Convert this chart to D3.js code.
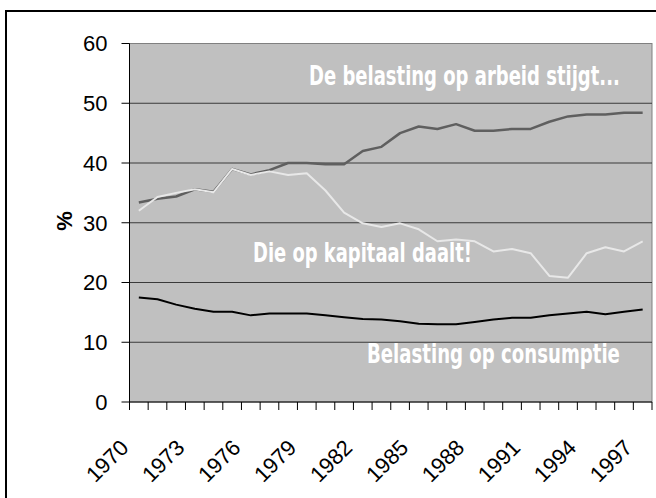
<!DOCTYPE html>
<html>
<head>
<meta charset="utf-8">
<script src="https://cdn.jsdelivr.net/npm/d3@7"></script>
<style>
  html, body { margin: 0; padding: 0; background: #fff; }
  svg { display: block; }
  .tick-label { font-family: "Liberation Sans", Arial, sans-serif; font-size: 22px; fill: #000; }
  .note { font-family: "DejaVu Sans", sans-serif; font-stretch: condensed; font-weight: bold; font-size: 26px; fill: #fff; }
</style>
</head>
<body>
<div id="chart"></div>
<script>
// Data
const years = d3.range(1970, 1998);
const arbeid = [33.4, 34.0, 34.4, 35.6, 35.2, 39.0, 38.1, 38.8, 40.0, 40.0,
  39.8, 39.8, 42.0, 42.7, 45.0, 46.1, 45.7, 46.5, 45.4, 45.4,
  45.7, 45.7, 46.9, 47.8, 48.1, 48.1, 48.4, 48.4];
const kapitaal = [32.0, 34.3, 35.0, 35.6, 35.1, 39.0, 38.0, 38.6, 38.0, 38.3,
  35.4, 31.7, 29.9, 29.3, 29.9, 28.9, 26.9, 27.2, 26.9, 25.2,
  25.6, 24.9, 21.1, 20.8, 24.9, 25.9, 25.2, 26.9];
const consumptie = [17.5, 17.2, 16.3, 15.6, 15.1, 15.1, 14.5, 14.8, 14.8, 14.8,
  14.5, 14.2, 13.9, 13.8, 13.5, 13.1, 13.0, 13.0, 13.4, 13.8,
  14.1, 14.1, 14.5, 14.8, 15.1, 14.7, 15.1, 15.5];
const yTicks = [0, 10, 20, 30, 40, 50, 60];
const xLabels = [1970, 1973, 1976, 1979, 1982, 1985, 1988, 1991, 1994, 1997];
const notes = [
  { text: 'De belasting op arbeid stijgt...', x: 309, y: 85, len: 311 },
  { text: 'Die op kapitaal daalt!', x: 253, y: 262, len: 219 },
  { text: 'Belasting op consumptie', x: 367, y: 363, len: 253 }
];

const W = 656, H = 498;
const plot = { left: 129.5, right: 652, top: 43.5, bottom: 402 };

const svg = d3.select('#chart').append('svg')
  .attr('width', W)
  .attr('height', H);

// outer frame (runs off the right and bottom edge, like the original)
svg.append('rect')
  .attr('x', 6).attr('y', 11)
  .attr('width', 700).attr('height', 600)
  .attr('fill', 'none')
  .attr('stroke', '#000')
  .attr('stroke-width', 2);

const x = d3.scaleBand().domain(years).range([plot.left, plot.right]).padding(0);
const y = d3.scaleLinear().domain([0, 60]).range([plot.bottom, plot.top]);
const cx = d => x(d) + x.bandwidth() / 2;

// plot background
svg.append('rect')
  .attr('x', plot.left).attr('y', plot.top)
  .attr('width', plot.right - plot.left).attr('height', plot.bottom - plot.top)
  .attr('fill', '#c0c0c0')
  .attr('stroke', '#808080')
  .attr('stroke-width', 1);

// gridlines
svg.append('g')
  .selectAll('line')
  .data(yTicks.filter(t => t > 0 && t < 60))
  .enter().append('line')
  .attr('x1', plot.left).attr('x2', plot.right)
  .attr('y1', d => y(d)).attr('y2', d => y(d))
  .attr('stroke', '#3a3a3a')
  .attr('stroke-width', 1);

// y axis
const yAxis = svg.append('g');
yAxis.append('line')
  .attr('x1', plot.left).attr('x2', plot.left)
  .attr('y1', plot.top).attr('y2', plot.bottom)
  .attr('stroke', '#000');
yAxis.selectAll('.yt')
  .data(yTicks)
  .enter().append('line')
  .attr('x1', plot.left - 8).attr('x2', plot.left)
  .attr('y1', d => y(d)).attr('y2', d => y(d))
  .attr('stroke', '#000');
yAxis.selectAll('text')
  .data(yTicks)
  .enter().append('text')
  .attr('class', 'tick-label')
  .attr('x', 107.5)
  .attr('y', d => y(d))
  .attr('dy', '0.36em')
  .attr('text-anchor', 'end')
  .text(d => d);

svg.append('text')
  .attr('class', 'tick-label')
  .attr('transform', 'translate(72,221) rotate(-90)')
  .attr('text-anchor', 'middle')
  .style('font-weight', 'bold')
  .text('%');

// x axis: ticks between categories
const xAxis = svg.append('g');
xAxis.append('line')
  .attr('x1', plot.left).attr('x2', plot.right)
  .attr('y1', plot.bottom).attr('y2', plot.bottom)
  .attr('stroke', '#000');
const bounds = years.map(d => x(d)).concat([x(years[years.length - 1]) + x.bandwidth()]);
xAxis.selectAll('.xt')
  .data(bounds)
  .enter().append('line')
  .attr('x1', d => d).attr('x2', d => d)
  .attr('y1', plot.bottom).attr('y2', plot.bottom + 8)
  .attr('stroke', '#000');
xAxis.selectAll('text')
  .data(xLabels)
  .enter().append('text')
  .attr('class', 'tick-label')
  .attr('text-anchor', 'end')
  .attr('transform', d => `translate(${cx(d) - 9},${plot.bottom + 47}) rotate(-45)`)
  .text(d => d);

// lines
const line = d3.line().x((d, i) => cx(years[i])).y(d => y(d));
const series = [
  { values: arbeid, color: '#5f5f5f', width: 2.5 },
  { values: kapitaal, color: '#e8e8e8', width: 2 },
  { values: consumptie, color: '#000000', width: 2 }
];
svg.append('g')
  .selectAll('path')
  .data(series)
  .enter().append('path')
  .attr('d', d => line(d.values))
  .attr('fill', 'none')
  .attr('stroke', d => d.color)
  .attr('stroke-width', d => d.width)
  .attr('stroke-linejoin', 'round');

// annotations: the original uses a condensed face, so squeeze horizontally
svg.append('g')
  .selectAll('text')
  .data(notes)
  .enter().append('text')
  .attr('class', 'note')
  .text(d => d.text)
  .each(function(d) {
    const k = d.len / this.getComputedTextLength();
    d3.select(this).attr('transform', `translate(${d.x},${d.y}) scale(${k},1)`);
  });
</script>
</body>
</html>
